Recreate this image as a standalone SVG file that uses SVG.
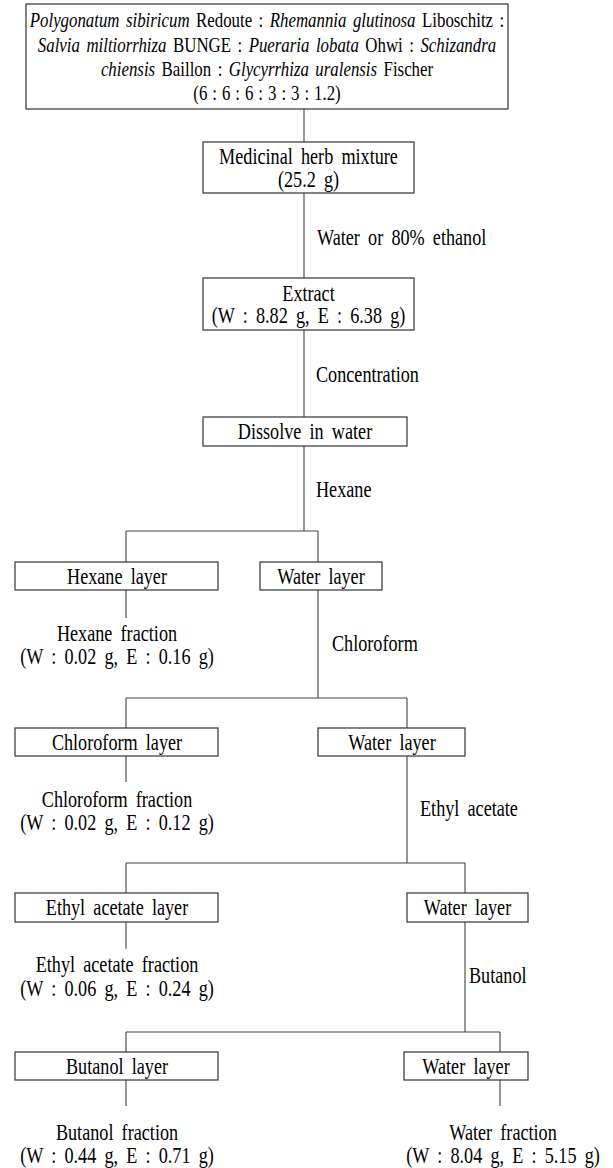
<svg xmlns="http://www.w3.org/2000/svg" width="613" height="1168" viewBox="0 0 613 1168">
<style>
  .box { fill: #ffffff; stroke: #333333; stroke-width: 1.2; }
  .ln { fill: none; stroke: #444444; stroke-width: 1.1; }
  text { font-family: "Liberation Serif", "Times New Roman", serif; font-size: 23px; fill: #000000; word-spacing: 4.6px; }
  .c { text-anchor: middle; }
  .i { font-style: italic; }
  .t { font-size: 22px; word-spacing: 3px; }
  .r { word-spacing: 1px; }
</style>
<rect width="613" height="1168" fill="#ffffff"/>
<g id="connectors">
  <path class="ln" d="M304 109 V142 M304 193 V278 M304 330 V417 M304 446 V531"/>
  <path class="ln" d="M126 531 H318 M126 531 V562 M318 531 V562"/>
  <path class="ln" d="M126 590 V618 M318 590 V698"/>
  <path class="ln" d="M126 698 H407 M126 698 V728 M407 698 V728"/>
  <path class="ln" d="M126 756 V782 M407 756 V863"/>
  <path class="ln" d="M126 863 H465 M126 863 V893 M465 863 V893"/>
  <path class="ln" d="M126 922 V949 M465 922 V1032"/>
  <path class="ln" d="M126 1032 H500 M126 1032 V1052 M500 1032 V1052"/>
  <path class="ln" d="M126 1080 V1106 M500 1080 V1106"/>
  <text transform="translate(317,245) scale(0.79,1)">Water or 80% ethanol</text>
  <text transform="translate(316,382) scale(0.79,1)">Concentration</text>
  <text transform="translate(316,497) scale(0.79,1)">Hexane</text>
  <text transform="translate(332,651) scale(0.79,1)">Chloroform</text>
  <text transform="translate(420,816) scale(0.79,1)">Ethyl acetate</text>
  <text transform="translate(469,983) scale(0.79,1)">Butanol</text>
</g>
<g id="herbs">
  <rect class="box" x="26" y="4" width="482" height="105"/>
  <text class="c t" transform="translate(267,27) scale(0.765,1)"><tspan class="i">Polygonatum sibiricum</tspan> Redoute : <tspan class="i">Rhemannia glutinosa</tspan> Liboschitz :</text>
  <text class="c t" transform="translate(267,52) scale(0.765,1)"><tspan class="i">Salvia miltiorrhiza</tspan> BUNGE : <tspan class="i">Pueraria lobata</tspan> Ohwi : <tspan class="i">Schizandra</tspan></text>
  <text class="c t" transform="translate(267,76) scale(0.765,1)"><tspan class="i">chiensis</tspan> Baillon : <tspan class="i">Glycyrrhiza uralensis</tspan> Fischer</text>
  <text class="c t r" transform="translate(267,100) scale(0.765,1)">(6 : 6 : 6 : 3 : 3 : 1.2)</text>
</g>
<g id="mixture">
  <rect class="box" x="203" y="142" width="211" height="51"/>
  <text class="c" transform="translate(308.5,164) scale(0.79,1)">Medicinal herb mixture</text>
  <text class="c" transform="translate(308.5,187) scale(0.79,1)">(25.2 g)</text>
</g>
<g id="extract">
  <rect class="box" x="203" y="278" width="211" height="52"/>
  <text class="c" transform="translate(308.5,301) scale(0.79,1)">Extract</text>
  <text class="c" transform="translate(308.5,323) scale(0.79,1)">(W : 8.82 g, E : 6.38 g)</text>
</g>
<g id="dissolve">
  <rect class="box" x="203" y="417" width="204" height="29"/>
  <text class="c" transform="translate(305,439) scale(0.79,1)">Dissolve in water</text>
</g>
<g id="hexane-layer">
  <rect class="box" x="15" y="562" width="203" height="28"/>
  <text class="c" transform="translate(117,584) scale(0.79,1)">Hexane layer</text>
</g>
<g id="water-layer-1">
  <rect class="box" x="260" y="562" width="122" height="28"/>
  <text class="c" transform="translate(321,584) scale(0.79,1)">Water layer</text>
</g>
<g id="hexane-fraction">
  <text class="c" transform="translate(117,641) scale(0.79,1)">Hexane fraction</text>
  <text class="c" transform="translate(117,664) scale(0.79,1)">(W : 0.02 g, E : 0.16 g)</text>
</g>
<g id="chloroform-layer">
  <rect class="box" x="15" y="728" width="203" height="28"/>
  <text class="c" transform="translate(117,750) scale(0.79,1)">Chloroform layer</text>
</g>
<g id="water-layer-2">
  <rect class="box" x="318" y="728" width="147" height="28"/>
  <text class="c" transform="translate(392,750) scale(0.79,1)">Water layer</text>
</g>
<g id="chloroform-fraction">
  <text class="c" transform="translate(117,807) scale(0.79,1)">Chloroform fraction</text>
  <text class="c" transform="translate(117,830) scale(0.79,1)">(W : 0.02 g, E : 0.12 g)</text>
</g>
<g id="ethyl-acetate-layer">
  <rect class="box" x="15" y="893" width="203" height="29"/>
  <text class="c" transform="translate(117,915) scale(0.79,1)">Ethyl acetate layer</text>
</g>
<g id="water-layer-3">
  <rect class="box" x="407" y="893" width="121" height="29"/>
  <text class="c" transform="translate(467.5,915) scale(0.79,1)">Water layer</text>
</g>
<g id="ethyl-acetate-fraction">
  <text class="c" transform="translate(117,972) scale(0.79,1)">Ethyl acetate fraction</text>
  <text class="c" transform="translate(117,996) scale(0.79,1)">(W : 0.06 g, E : 0.24 g)</text>
</g>
<g id="butanol-layer">
  <rect class="box" x="15" y="1052" width="203" height="28"/>
  <text class="c" transform="translate(117,1074) scale(0.79,1)">Butanol layer</text>
</g>
<g id="water-layer-4">
  <rect class="box" x="404" y="1052" width="124" height="28"/>
  <text class="c" transform="translate(466,1074) scale(0.79,1)">Water layer</text>
</g>
<g id="butanol-fraction">
  <text class="c" transform="translate(117,1140) scale(0.79,1)">Butanol fraction</text>
  <text class="c" transform="translate(117,1163) scale(0.79,1)">(W : 0.44 g, E : 0.71 g)</text>
</g>
<g id="water-fraction">
  <text class="c" transform="translate(503,1140) scale(0.79,1)">Water fraction</text>
  <text class="c" transform="translate(503,1163) scale(0.79,1)">(W : 8.04 g, E : 5.15 g)</text>
</g>
</svg>
